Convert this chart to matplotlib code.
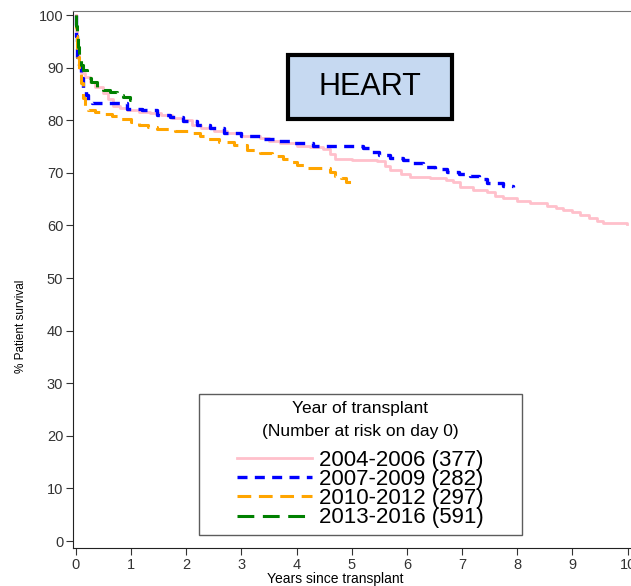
import matplotlib.pyplot as plt
from matplotlib.lines import Line2D
from matplotlib.patches import Rectangle

plt.rcParams['font.family'] = ['Liberation Sans', 'DejaVu Sans']

# Kaplan-Meier style survival estimates (years, % surviving)
t_0406 = [0, 0.01, 0.03, 0.06, 0.1, 0.17, 0.25, 0.35, 0.5, 0.58, 0.68, 0.8, 0.93, 1.15, 1.35, 1.55, 1.75, 1.95, 2.1, 2.26, 2.5, 2.74, 3.0, 3.34, 3.5, 3.7, 4.0, 4.25, 4.48, 4.6, 4.7, 5.0, 5.46, 5.6, 5.7, 5.9, 6.06, 6.42, 6.7, 6.84, 6.96, 7.2, 7.45, 7.6, 7.74, 8.0, 8.23, 8.54, 8.7, 8.83, 9.0, 9.14, 9.3, 9.45, 9.55, 9.99]
s_0406 = [100, 97, 93, 90, 89, 88.2, 87.3, 86.4, 85.2, 84.0, 82.8, 82.3, 81.9, 81.6, 81.4, 81.0, 80.5, 80.0, 79.2, 78.5, 78.0, 77.6, 77.1, 76.6, 76.1, 75.6, 75.1, 74.9, 74.6, 73.5, 72.6, 72.4, 72.2, 71.3, 70.5, 69.8, 69.2, 69.1, 68.6, 68.2, 67.4, 66.8, 66.3, 65.7, 65.2, 64.7, 64.3, 63.7, 63.3, 62.9, 62.5, 62.0, 61.4, 60.9, 60.5, 60.2]

t_0709 = [0, 0.01, 0.03, 0.06, 0.1, 0.13, 0.18, 0.23, 0.3, 0.85, 0.93, 1.2, 1.47, 1.7, 1.95, 2.2, 2.44, 2.68, 3.0, 3.34, 3.6, 3.88, 4.3, 5.2, 5.35, 5.5, 5.7, 5.93, 6.1, 6.3, 6.5, 6.72, 6.95, 7.14, 7.3, 7.45, 7.74, 7.92]
s_0709 = [100, 96, 92, 90.5, 88, 86, 84.8, 83.8, 83.3, 83.2, 82.1, 81.9, 81.0, 80.6, 79.9, 79.1, 78.5, 77.6, 77.0, 76.5, 76.0, 75.7, 75.1, 74.7, 74.0, 73.4, 72.9, 72.4, 71.8, 71.1, 70.8, 70.2, 69.8, 69.4, 68.8, 68.1, 67.5, 67.4]

t_1012 = [0, 0.01, 0.03, 0.06, 0.09, 0.13, 0.17, 0.22, 0.35, 0.5, 0.65, 0.8, 1.0, 1.15, 1.3, 1.47, 1.8, 2.13, 2.25, 2.37, 2.6, 2.86, 3.1, 3.34, 3.55, 3.76, 3.9, 4.0, 4.18, 4.6, 4.7, 4.8, 4.9, 5.0]
s_1012 = [100, 96, 92, 89, 87, 84.2, 82.8, 81.9, 81.5, 81.2, 80.8, 80.3, 79.6, 79.1, 78.7, 78.3, 78.0, 77.6, 77.0, 76.5, 75.9, 75.3, 74.4, 73.8, 73.2, 72.6, 72.0, 71.5, 70.9, 70.2, 69.5, 69.0, 68.3, 68.3]

t_1316 = [0, 0.01, 0.02, 0.04, 0.06, 0.09, 0.13, 0.2, 0.28, 0.38, 0.5, 0.62, 0.75, 0.86, 0.98, 1.0]
s_1316 = [100, 98, 95.8, 94, 92, 90.5, 89.5, 88, 87.2, 86.3, 85.8, 85.4, 84.9, 84.4, 83.8, 83.8]

labels = ['2004-2006 (377)', '2007-2009 (282)', '2010-2012 (297)', '2013-2016 (591)']

fig = plt.figure(figsize=(6.31, 5.86), dpi=100)
ax = fig.add_axes([0.1157, 0.0648, 0.8843, 0.9162])

styles = [dict(color='pink', lw=2),
          dict(color='blue', lw=2.4, dashes=(3, 2.2)),
          dict(color='orange', lw=2.2, dashes=(4.5, 2.5)),
          dict(color='green', lw=2.2, dashes=(5.5, 2.8))]
for t, s, st in zip([t_0406, t_0709, t_1012, t_1316], [s_0406, s_0709, s_1012, s_1316], styles):
    ax.plot(t, s, drawstyle='steps-post', **st)

ax.set_xlim(-0.05, 10.06)
ax.set_ylim(-1.33, 100.76)
ax.set_xticks(range(0, 11))
ax.set_yticks(range(0, 101, 10))
ax.tick_params(labelsize=10.5, colors='#333333', length=5, width=0.8, pad=2)
ax.spines['right'].set_visible(False)
ax.spines['top'].set_color('#777777')
for sp in ['left', 'bottom']:
    ax.spines[sp].set_color('#222222')
ax.set_xlabel('Years since transplant', fontsize=10)
ax.xaxis.set_label_coords(0.4695, -0.0445)
ax.xaxis.label.set_va('top')
ax.set_ylabel('% Patient survival', fontsize=8.5)
ax.yaxis.set_label_coords(-0.094, 0.413)
ax.yaxis.label.set_va('center')

ax.add_patch(Rectangle((0.385, 0.799), 0.294, 0.119, transform=ax.transAxes,
                       fc='#c6d9f1', ec='black', lw=3, zorder=5))
ax.text(0.532, 0.858, 'HEART', transform=ax.transAxes, fontsize=22, ha='center', va='center',
        zorder=6)

handles = [Line2D([], [], **st) for st in styles]
leg = ax.legend(handles, labels, title='Year of transplant\n(Number at risk on day 0)',
                loc='upper left', bbox_to_anchor=(0.2256, 0.0, 0.5785, 0.2868), mode='expand',
                borderaxespad=0, fontsize=16, title_fontsize=12.5, handlelength=3.4,
                labelspacing=-0.08, frameon=True, fancybox=False, edgecolor='#333333',
                borderpad=0.3, handletextpad=0.3)
leg._legend_box.align = 'center'
leg._legend_box.sep = 8
leg._legend_handle_box.mode = 'fixed'
leg.get_frame().set_linewidth(1)
leg.get_title().set_multialignment('center')
leg.get_title().set_linespacing(1.65)

fig.savefig('out.png', dpi=100)
